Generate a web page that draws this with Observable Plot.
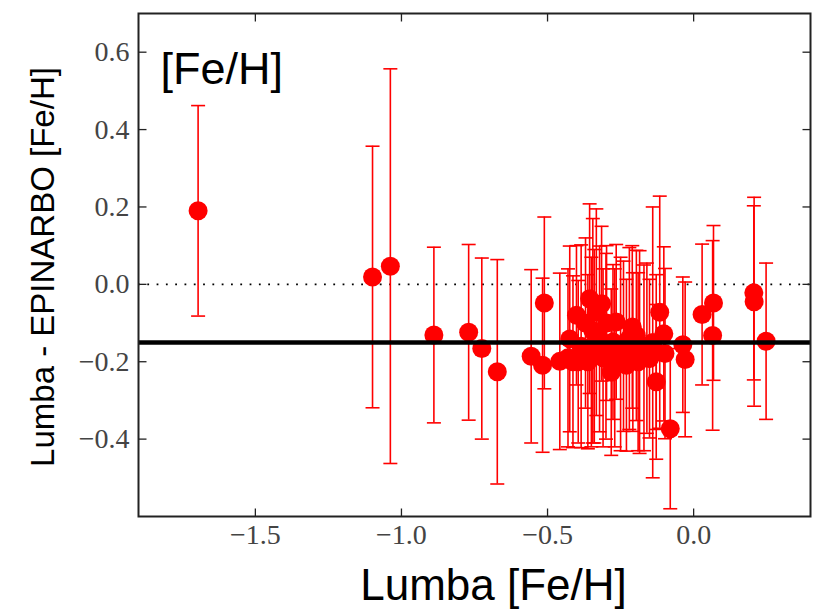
<!DOCTYPE html>
<html>
<head>
<meta charset="utf-8">
<script src="https://cdn.jsdelivr.net/npm/d3@7"></script>
<script src="https://cdn.jsdelivr.net/npm/@observablehq/plot@0.6"></script>
<style>
  body { margin: 0; background: #fff; }
</style>
</head>
<body>
<div id="chart"></div>
<script>
// Lumba [Fe/H] values (x)
const lumba = [-1.696, -1.099, -1.038, -0.889, -0.770, -0.725, -0.672, -0.556, -0.511, -0.517,
  -0.458, -0.424, -0.413, -0.401, -0.395, -0.385, -0.356, -0.350, -0.362, -0.345,
  -0.333, -0.322, -0.310, -0.298, -0.282, -0.276, -0.265, -0.250, -0.230, -0.220,
  -0.208, -0.196, -0.185, -0.170, -0.151, -0.140, -0.128, -0.128, -0.116, -0.102,
  -0.098, -0.080, -0.037, -0.029, 0.029, 0.068, 0.065, 0.206, 0.207, 0.248,
  -0.370, -0.340, -0.300, -0.270, -0.240, -0.210, -0.190, -0.160, -0.315, -0.430];
// Lumba - EPINARBO [Fe/H] (y)
const diff = [0.190, 0.019, 0.047, -0.131, -0.124, -0.166, -0.226, -0.186, -0.048, -0.209,
  -0.199, -0.141, -0.200, -0.080, -0.200, -0.160, -0.037, -0.175, -0.200, -0.120,
  -0.072, -0.141, -0.190, -0.100, -0.227, -0.149, -0.097, -0.180, -0.209, -0.140,
  -0.175, -0.132, -0.175, -0.190, -0.192, -0.150, -0.175, -0.252, -0.072, -0.128,
  -0.179, -0.373, -0.156, -0.194, -0.078, -0.048, -0.132, -0.022, -0.045, -0.147,
  -0.100, -0.160, -0.160, -0.190, -0.160, -0.110, -0.200, -0.165, -0.050, -0.190];
// symmetric errors
const err = [0.272, 0.338, 0.510, 0.227, 0.227, 0.234, 0.290, 0.224, 0.222, 0.225,
  0.228, 0.240, 0.222, 0.180, 0.210, 0.262, 0.245, 0.245, 0.225, 0.290,
  0.267, 0.240, 0.230, 0.200, 0.215, 0.200, 0.200, 0.250, 0.222, 0.235,
  0.205, 0.220, 0.262, 0.240, 0.205, 0.350, 0.200, 0.200, 0.300, 0.225,
  0.220, 0.207, 0.175, 0.200, 0.182, 0.200, 0.245, 0.225, 0.270, 0.202,
  0.220, 0.250, 0.240, 0.230, 0.220, 0.210, 0.230, 0.220, 0.200, 0.230];

const xTicks = [-1.5, -1.0, -0.5, 0.0];
const yTicks = [-0.4, -0.2, 0.0, 0.2, 0.4, 0.6];
const xDomain = [-1.9, 0.4];
const yDomain = [-0.6, 0.7];
const zeroLevel = [0.0];
const meanOffset = [-0.15];
const panelLabel = "[Fe/H]";
const xLabel = "Lumba [Fe/H]";
const yLabel = "Lumba - EPINARBO [Fe/H]";

const data = lumba.map((x, i) => ({x, y: diff[i], e: err[i]}));
const fmt = d => (d < 0 ? "\u2212" : "") + Math.abs(d).toFixed(1);

const cap = {draw(ctx) { ctx.moveTo(-7, 0); ctx.lineTo(7, 0); }};
const tickRight = {draw(ctx) { ctx.moveTo(0, 0); ctx.lineTo(8, 0); }};
const tickLeft = {draw(ctx) { ctx.moveTo(0, 0); ctx.lineTo(-8, 0); }};
const tickUp = {draw(ctx) { ctx.moveTo(0, 0); ctx.lineTo(0, -8); }};
const tickDown = {draw(ctx) { ctx.moveTo(0, 0); ctx.lineTo(0, 8); }};

const red = "#ff0000";
const tickFont = "'Liberation Serif', 'DejaVu Serif', serif";
const sans = "'Liberation Sans', Arial, sans-serif";

const plot = Plot.plot({
  width: 828,
  height: 609,
  marginLeft: 138,
  marginRight: 18,
  marginTop: 13,
  marginBottom: 93,
  x: {domain: xDomain},
  y: {domain: yDomain},
  style: {background: "#fff", overflow: "visible"},
  marks: [
    Plot.ruleY(zeroLevel, {stroke: "#000", strokeWidth: 1.8, strokeDasharray: "1.8,7.5"}),
    Plot.ruleX(data, {x: "x", y1: d => d.y - d.e, y2: d => d.y + d.e, stroke: red, strokeWidth: 1.6}),
    Plot.dot(data, {x: "x", y: d => d.y + d.e, symbol: cap, stroke: red, strokeWidth: 1.6, fill: "none"}),
    Plot.dot(data, {x: "x", y: d => d.y - d.e, symbol: cap, stroke: red, strokeWidth: 1.6, fill: "none"}),
    Plot.dot(data, {x: "x", y: "y", r: 9.5, fill: red, stroke: "none"}),
    Plot.ruleY(meanOffset, {stroke: "#000", strokeWidth: 4.5}),
    Plot.frame({stroke: "#222", strokeWidth: 2}),
    // inward ticks on all four sides
    Plot.dot(yTicks, {y: d => d, frameAnchor: "left", symbol: tickRight, stroke: "#222", strokeWidth: 1.3}),
    Plot.dot(yTicks, {y: d => d, frameAnchor: "right", symbol: tickLeft, stroke: "#222", strokeWidth: 1.3}),
    Plot.dot(xTicks, {x: d => d, frameAnchor: "bottom", symbol: tickUp, stroke: "#222", strokeWidth: 1.3}),
    Plot.dot(xTicks, {x: d => d, frameAnchor: "top", symbol: tickDown, stroke: "#222", strokeWidth: 1.3}),
    // tick labels
    Plot.axisY(yTicks, {anchor: "left", tickSize: 0, tickPadding: 9, tickFormat: fmt, fontSize: 28,
      fontFamily: tickFont, fill: "#444", label: null}),
    Plot.axisX(xTicks, {anchor: "bottom", tickSize: 0, tickPadding: 8, tickFormat: fmt, fontSize: 28,
      fontFamily: tickFont, fill: "#444", label: null}),
    // texts
    Plot.text([panelLabel], {frameAnchor: "top-left", textAnchor: "start", lineAnchor: "bottom",
      dx: 22, dy: 70, fontSize: 45, fontFamily: sans, fill: "#000"}),
    Plot.text([xLabel], {frameAnchor: "bottom", textAnchor: "middle", lineAnchor: "bottom", dx: 19, dy: 83,
      fontSize: 44, fontFamily: sans, fill: "#000"}),
    Plot.text([yLabel], {frameAnchor: "left", textAnchor: "middle", rotate: -90, lineAnchor: "bottom",
      dx: -85, dy: 2, fontSize: 33, fontFamily: sans, fill: "#000"})
  ]
});
document.getElementById("chart").appendChild(plot);
</script>
</body>
</html>
